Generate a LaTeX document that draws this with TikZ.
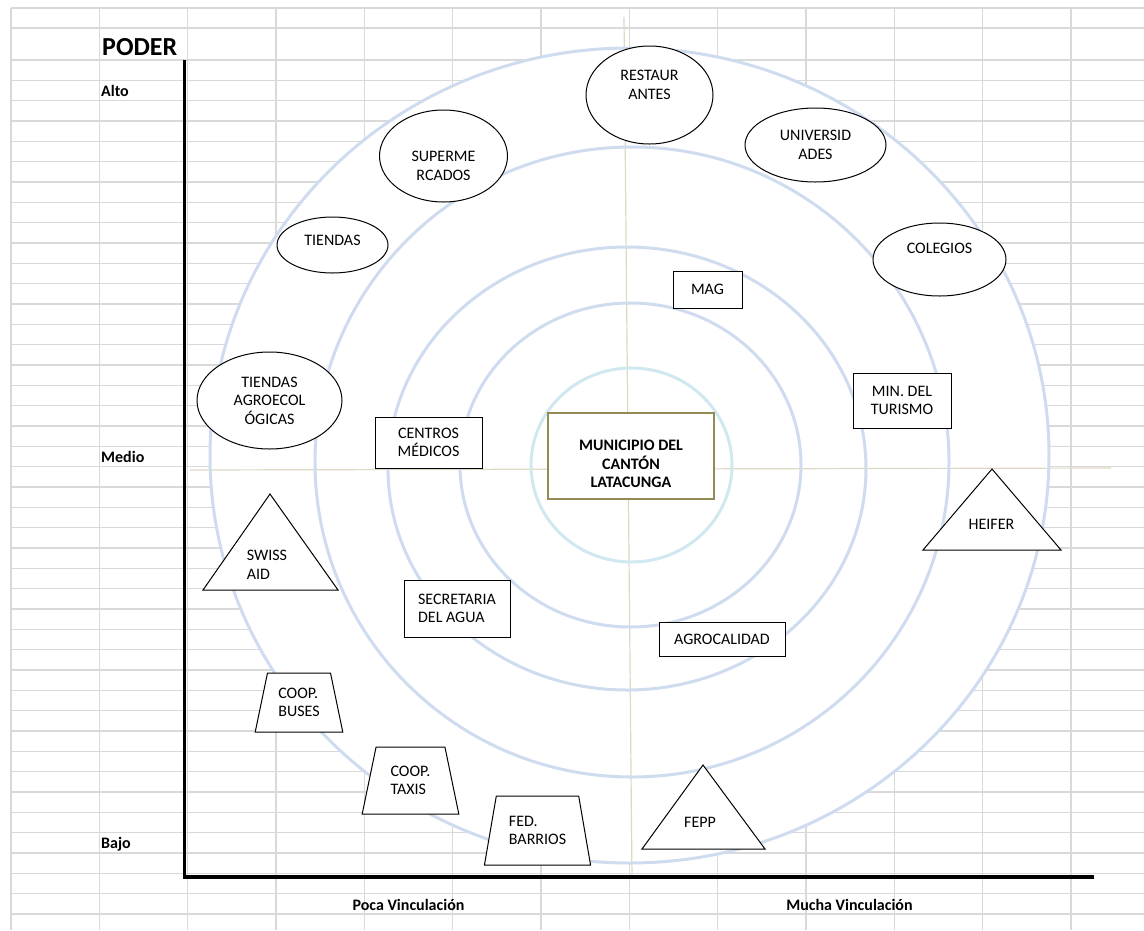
\documentclass[tikz,border=0pt]{standalone}
\usepackage{fontspec}
\setmainfont{Carlito}
\usetikzlibrary{shapes.geometric}

\definecolor{ringblue}{HTML}{CFDCEF}
\definecolor{ringcyan}{HTML}{D0E8F0}
\definecolor{crossline}{HTML}{DDD9C3}
\definecolor{munibox}{HTML}{948A54}
\definecolor{gridgray}{HTML}{D9D9D9}

\begin{document}
\begin{tikzpicture}[x=1pt, y=-1pt,
    every node/.style={font=\fontsize{16}{18.5}\selectfont, inner sep=2pt},
    gridline/.style={gridgray, line width=1.3pt},
    ring/.style={ringblue, line width=3pt},
    actoroval/.style={ellipse, draw, fill=white, line width=1pt, align=center},
    actorbox/.style={rectangle, draw, fill=white, line width=1pt, align=center},
    actortrap/.style={trapezium, trapezium left angle=75, trapezium right angle=75,
        trapezium stretches=true, draw, fill=white, line width=1pt, align=left},
    axislbl/.style={font=\bfseries\fontsize{16}{18.5}\selectfont, inner sep=0pt}]
    \useasboundingbox (0,0) rectangle (1144,930);

    % spreadsheet grid
    \foreach \gx in {0,...,12}
        \draw[gridline] ({11+88.33*\gx},8) -- ({11+88.33*\gx},930);
    \draw[gridline] (11,8) -- (1144,8);
    \draw[gridline] (11,28) -- (1144,28);
    \foreach \gy in {0,...,42}
        \draw[gridline] (11,{60+20.33*\gy}) -- (1144,{60+20.33*\gy});

    % rings
    \fill[white] (629.5,455.5) ellipse [x radius=419.5pt, y radius=407.5pt];
    \draw[crossline, line width=1.2pt] (624,17) -- (632,878);
    \draw[crossline, line width=1.2pt] (190,470) -- (1111,468);
    \draw[ring] (629.5,455.5) ellipse [x radius=419.5pt, y radius=407.5pt];
    \draw[ring] (632,462) ellipse [x radius=317pt, y radius=315pt];
    \draw[ring] (627,468.5) ellipse [x radius=239pt, y radius=221.5pt];
    \draw[ring] (630.5,465) ellipse [x radius=170.5pt, y radius=162pt];
    \draw[ring, ringcyan] (631.5,465) ellipse [x radius=100.5pt, y radius=97pt];

    % actors
    \node[actorbox, draw=munibox, line width=1.5pt, font=\bfseries\fontsize{16}{18.5}\selectfont,
        text height=64pt, minimum width=166, minimum height=86] (muni) at (631,456) {MUNICIPIO DEL\\CANTÓN\\LATACUNGA};
    \node[actoroval, text depth=20pt, minimum width=127, minimum height=98] (rest) at (649.5,95) {RESTAUR\\ANTES};
    \node[actoroval, text height=49pt, minimum width=128, minimum height=92] (super) at (443.5,156) {SUPERME\\RCADOS};
    \node[actoroval, minimum width=141, minimum height=74] (univ) at (815.5,145) {UNIVERSID\\ADES};
    \node[actoroval, text depth=23pt, minimum width=133, minimum height=73] (coleg) at (939.5,259.5) {COLEGIOS};
    \node[actoroval, text depth=10pt, minimum width=111, minimum height=56] (tiendas) at (332.5,245) {TIENDAS};
    \node[actoroval, minimum width=145, minimum height=97] (agroeco) at (269.5,400.5) {TIENDAS\\AGROECOL\\ÓGICAS};
    \node[actorbox, minimum width=69, minimum height=37] (mag) at (707.5,289.5) {MAG};
    \node[actorbox, minimum width=98, minimum height=55] (mintur) at (902,400.5) {MIN. DEL\\TURISMO};
    \node[actorbox, minimum width=107, minimum height=51] (centros) at (428.5,442.5) {CENTROS\\MÉDICOS};
    \node[actorbox, align=left, minimum width=106, minimum height=57] (secre) at (457,608.5) {SECRETARIA\\DEL AGUA};
    \node[actorbox, minimum width=126, minimum height=34] (agroc) at (722,639) {AGROCALIDAD};
    \node[actortrap, minimum width=88, minimum height=59] (buses) at (299,702.5) {COOP.\\BUSES};
    \node[actortrap, minimum width=97, minimum height=67] (taxis) at (410.5,780.5) {COOP.\\TAXIS};
    \node[actortrap, minimum width=107, minimum height=69] (barrios) at (537.5,830.5) {FED.\\BARRIOS};

    \draw[line width=1pt, fill=white] (270,494) -- (338,590) -- (203,590) -- cycle;
    \node[align=left] (swiss) at (267,565) {SWISS\\AID};
    \draw[line width=1pt, fill=white] (992,469) -- (1061,550) -- (923,550) -- cycle;
    \node (heifer) at (991.5,524) {HEIFER};
    \draw[line width=1pt, fill=white] (703,765) -- (765,849) -- (642,849) -- cycle;
    \node (fepp) at (700,822) {FEPP};

    % axes
    \draw[line width=3.5pt] (184.5,60) -- (184.5,877) -- (1094,877);
    \node[axislbl, font=\bfseries\fontsize{26}{30}\selectfont, anchor=west] (poder) at (102,47) {PODER};
    \node[axislbl, anchor=west] (alto) at (101,91) {Alto};
    \node[axislbl, anchor=west] (medio) at (101,457) {Medio};
    \node[axislbl, anchor=west] (bajo) at (101,844) {Bajo};
    \node[axislbl] (poca) at (408.5,905) {Poca Vinculación};
    \node[axislbl] (mucha) at (849.5,905) {Mucha Vinculación};
\end{tikzpicture}
\end{document}
